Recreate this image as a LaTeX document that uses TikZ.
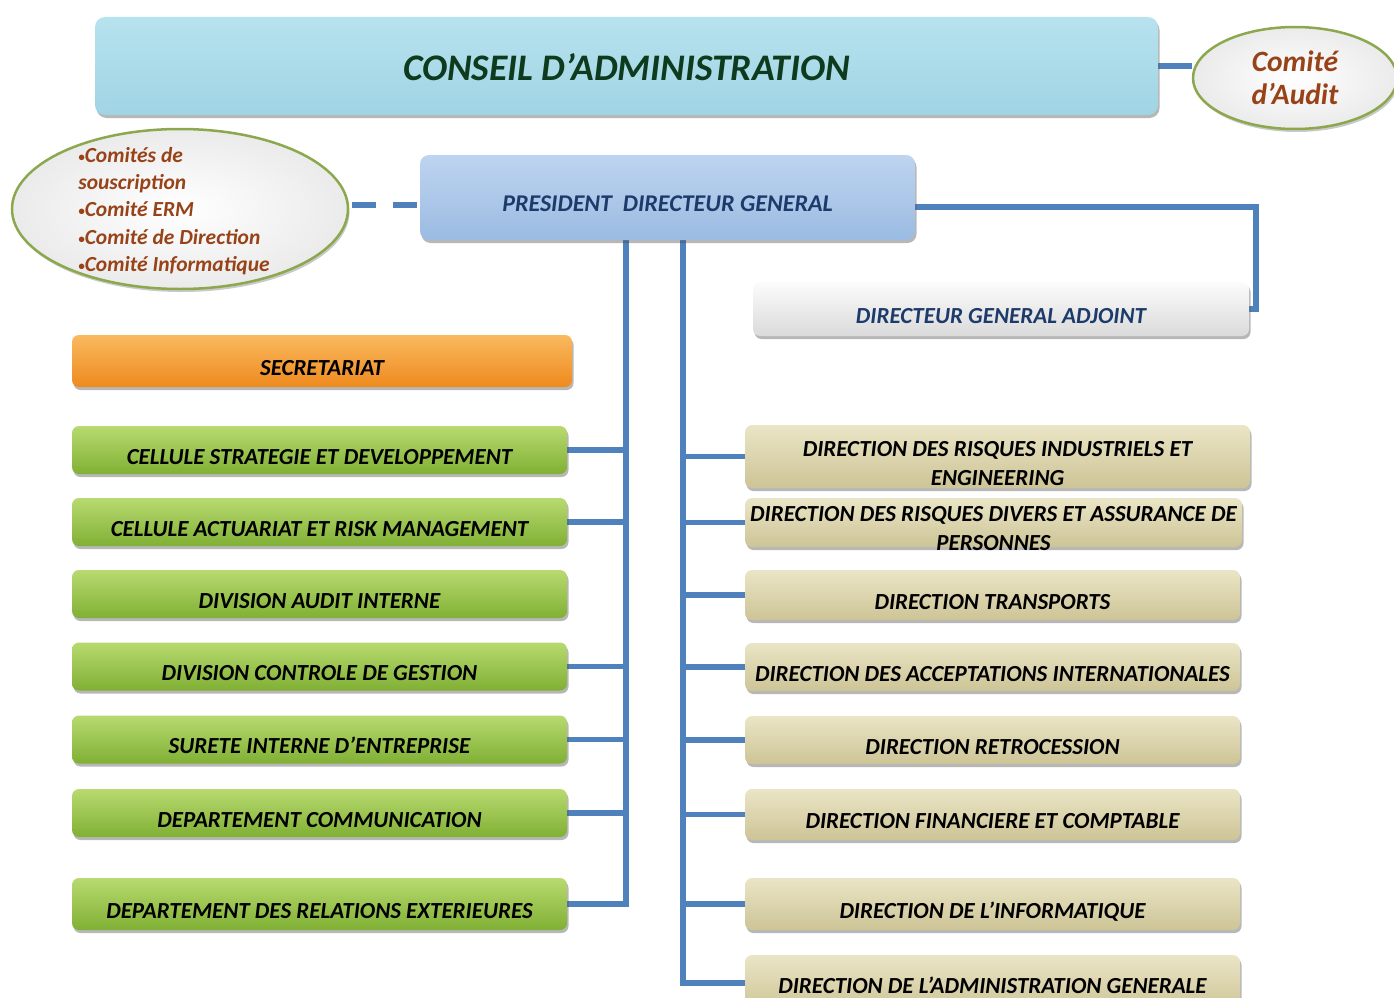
\documentclass[tikz,border=0pt]{standalone}
\usepackage{fontspec}
\setmainfont{Carlito}
\usetikzlibrary{shapes.geometric,shadows}
\definecolor{lineblue}{RGB}{79,129,189}
\definecolor{capfillA}{RGB}{183,226,238}
\definecolor{capfillB}{RGB}{160,212,228}
\definecolor{catext}{RGB}{14,58,30}
\definecolor{pdgA}{RGB}{190,212,240}
\definecolor{pdgB}{RGB}{155,187,226}
\definecolor{pdgtext}{RGB}{28,58,106}
\definecolor{dgaA}{RGB}{252,252,252}
\definecolor{dgaB}{RGB}{218,218,218}
\definecolor{orA}{RGB}{250,185,95}
\definecolor{orB}{RGB}{238,138,30}
\definecolor{grA}{RGB}{184,218,112}
\definecolor{grB}{RGB}{128,176,52}
\definecolor{tanA}{RGB}{234,229,198}
\definecolor{tanB}{RGB}{205,196,150}
\definecolor{ellborder}{RGB}{140,168,78}
\definecolor{elltext}{RGB}{152,66,24}
\newcommand{\twolines}[3]{\raisebox{-#1}[0pt][0pt]{\begin{tabular}{@{}c@{}}#2\\#3\end{tabular}}}
\newcommand{\smbul}{{\fontsize{13}{0}\selectfont\raisebox{1pt}{•}}}
\pgfdeclarelayer{bg}
\pgfsetlayers{bg,main}
\begin{document}
\begin{tikzpicture}[x=1pt,y=-1pt,
  box/.style={draw=none, rounded corners=7pt, align=center, inner sep=2pt,
    drop shadow={shadow xshift=1.5pt, shadow yshift=-3pt, opacity=0.4, fill=black!70},
    font=\fontsize{23}{29}\selectfont\bfseries\itshape},
  low/.style={text height=28pt, text depth=0pt},
  greenbox/.style={box, low, top color=grA, bottom color=grB, minimum width=495pt, minimum height=48pt},
  tanplain/.style={box, top color=tanA, bottom color=tanB, minimum width=495pt, minimum height=49pt},
  tanbox/.style={tanplain, low},
  ellbox/.style={ellipse, draw=ellborder, line width=2.5pt, inner color=white, outer color=black!8,
    drop shadow={shadow xshift=1.5pt, shadow yshift=-3pt, opacity=0.3, fill=black!70}},
  conn/.style={draw=lineblue, line width=5.5pt},
]
\useasboundingbox (0,0) rectangle (1394,998);
\clip (0,0) rectangle (1394,998);

% top level
\node[box, top color=capfillA, bottom color=capfillB, minimum width=1063pt, minimum height=98pt,
  rounded corners=10pt, text=catext, text height=30pt, text depth=0pt,
  font=\fontsize{37.5}{42}\selectfont\bfseries\itshape]
  (ca) at (626.5,66) {CONSEIL D’ADMINISTRATION};
\node[ellbox, minimum width=204pt, minimum height=102pt, text=elltext, align=center,
  font=\fontsize{29.5}{33}\selectfont\bfseries\itshape] (audit) at (1295,78) {Comité\\d’Audit};

% PDG
\node[box, low, top color=pdgA, bottom color=pdgB, minimum width=495pt, minimum height=85pt,
  rounded corners=9pt, text=pdgtext, font=\fontsize{24}{28}\selectfont\bfseries\itshape]
  (pdg) at (667.5,197.5) {PRESIDENT\ \ DIRECTEUR GENERAL};
\node[ellbox, minimum width=336pt, minimum height=160pt] (comites) at (180,209) {};
\node[align=left, text=elltext, inner sep=0pt, font=\fontsize{21.5}{27.3}\selectfont\bfseries\itshape]
  (comlist) at (174,211) {\smbul Comités de\\souscription\\\smbul Comité ERM\\\smbul Comité de Direction\\\smbul Comité Informatique};

\node[box, low, top color=dgaA, bottom color=dgaB, minimum width=496pt, minimum height=54pt,
  text=pdgtext] (dga) at (1001,309) {DIRECTEUR GENERAL ADJOINT};

% left column
\node[box, low, top color=orA, bottom color=orB, minimum width=500pt, minimum height=52pt]
  (sec) at (322,361) {SECRETARIAT};
\node[greenbox] (l1) at (319.5,450) {CELLULE STRATEGIE ET DEVELOPPEMENT};
\node[greenbox] (l2) at (319.5,522) {CELLULE ACTUARIAT ET RISK MANAGEMENT};
\node[greenbox] (l3) at (319.5,594) {DIVISION AUDIT INTERNE};
\node[greenbox] (l4) at (319.5,666.5) {DIVISION CONTROLE DE GESTION};
\node[greenbox] (l5) at (319.5,739.5) {SURETE INTERNE D’ENTREPRISE};
\node[greenbox] (l6) at (319.5,813) {DEPARTEMENT COMMUNICATION};
\node[greenbox, minimum height=52pt] (l7) at (319.5,904) {DEPARTEMENT DES RELATIONS EXTERIEURES};

% right column
\node[tanplain, minimum width=505pt, minimum height=63pt] (r1) at (997.5,456.5)
  {\twolines{15pt}{DIRECTION DES RISQUES INDUSTRIELS ET}{ENGINEERING}};
\node[tanplain, minimum width=497pt] (r2) at (993.5,522.5)
  {\twolines{13.5pt}{DIRECTION DES RISQUES DIVERS ET ASSURANCE DE}{PERSONNES}};
\node[tanbox, minimum height=50pt] (r3) at (992.5,595) {DIRECTION TRANSPORTS};
\node[tanbox, minimum height=48pt] (r4) at (992.5,667) {DIRECTION DES ACCEPTATIONS INTERNATIONALES};
\node[tanbox, minimum height=48pt] (r5) at (992.5,740) {DIRECTION RETROCESSION};
\node[tanbox, minimum height=51pt] (r6) at (992.5,814.5) {DIRECTION FINANCIERE ET COMPTABLE};
\node[tanbox, minimum height=52pt] (r7) at (992.5,904) {DIRECTION DE L’INFORMATIQUE};
\node[tanplain, minimum height=56pt, text height=20pt, text depth=0pt] (r8) at (992.5,983) {DIRECTION DE L’ADMINISTRATION GENERALE};

% connectors
\coordinate (lt) at (626,901);
\coordinate (rt) at (683,983);
\coordinate (dgk) at (1256,207);
\coordinate (dsh) at (352,205);
\begin{pgfonlayer}{bg}
\draw[conn] (ca.east) -- (ca.east -| audit.west);
\draw[conn, dash pattern=on 24pt off 17pt] (dsh) -- (dsh -| pdg.west);
\draw[conn] (pdg.east |- dgk) -- (dgk) |- (dga.east);
\draw[conn] (pdg.south -| lt) |- (l7.east);
\foreach \n in {l1,l2,l4,l5,l6} \draw[conn] (\n.east) -- (\n.east -| lt);
\draw[conn] (pdg.south -| rt) |- (r8.west);
\foreach \n in {r1,r2,r3,r4,r5,r6,r7} \draw[conn] (\n.west) -- (\n.west -| rt);
\end{pgfonlayer}
\end{tikzpicture}
\end{document}
